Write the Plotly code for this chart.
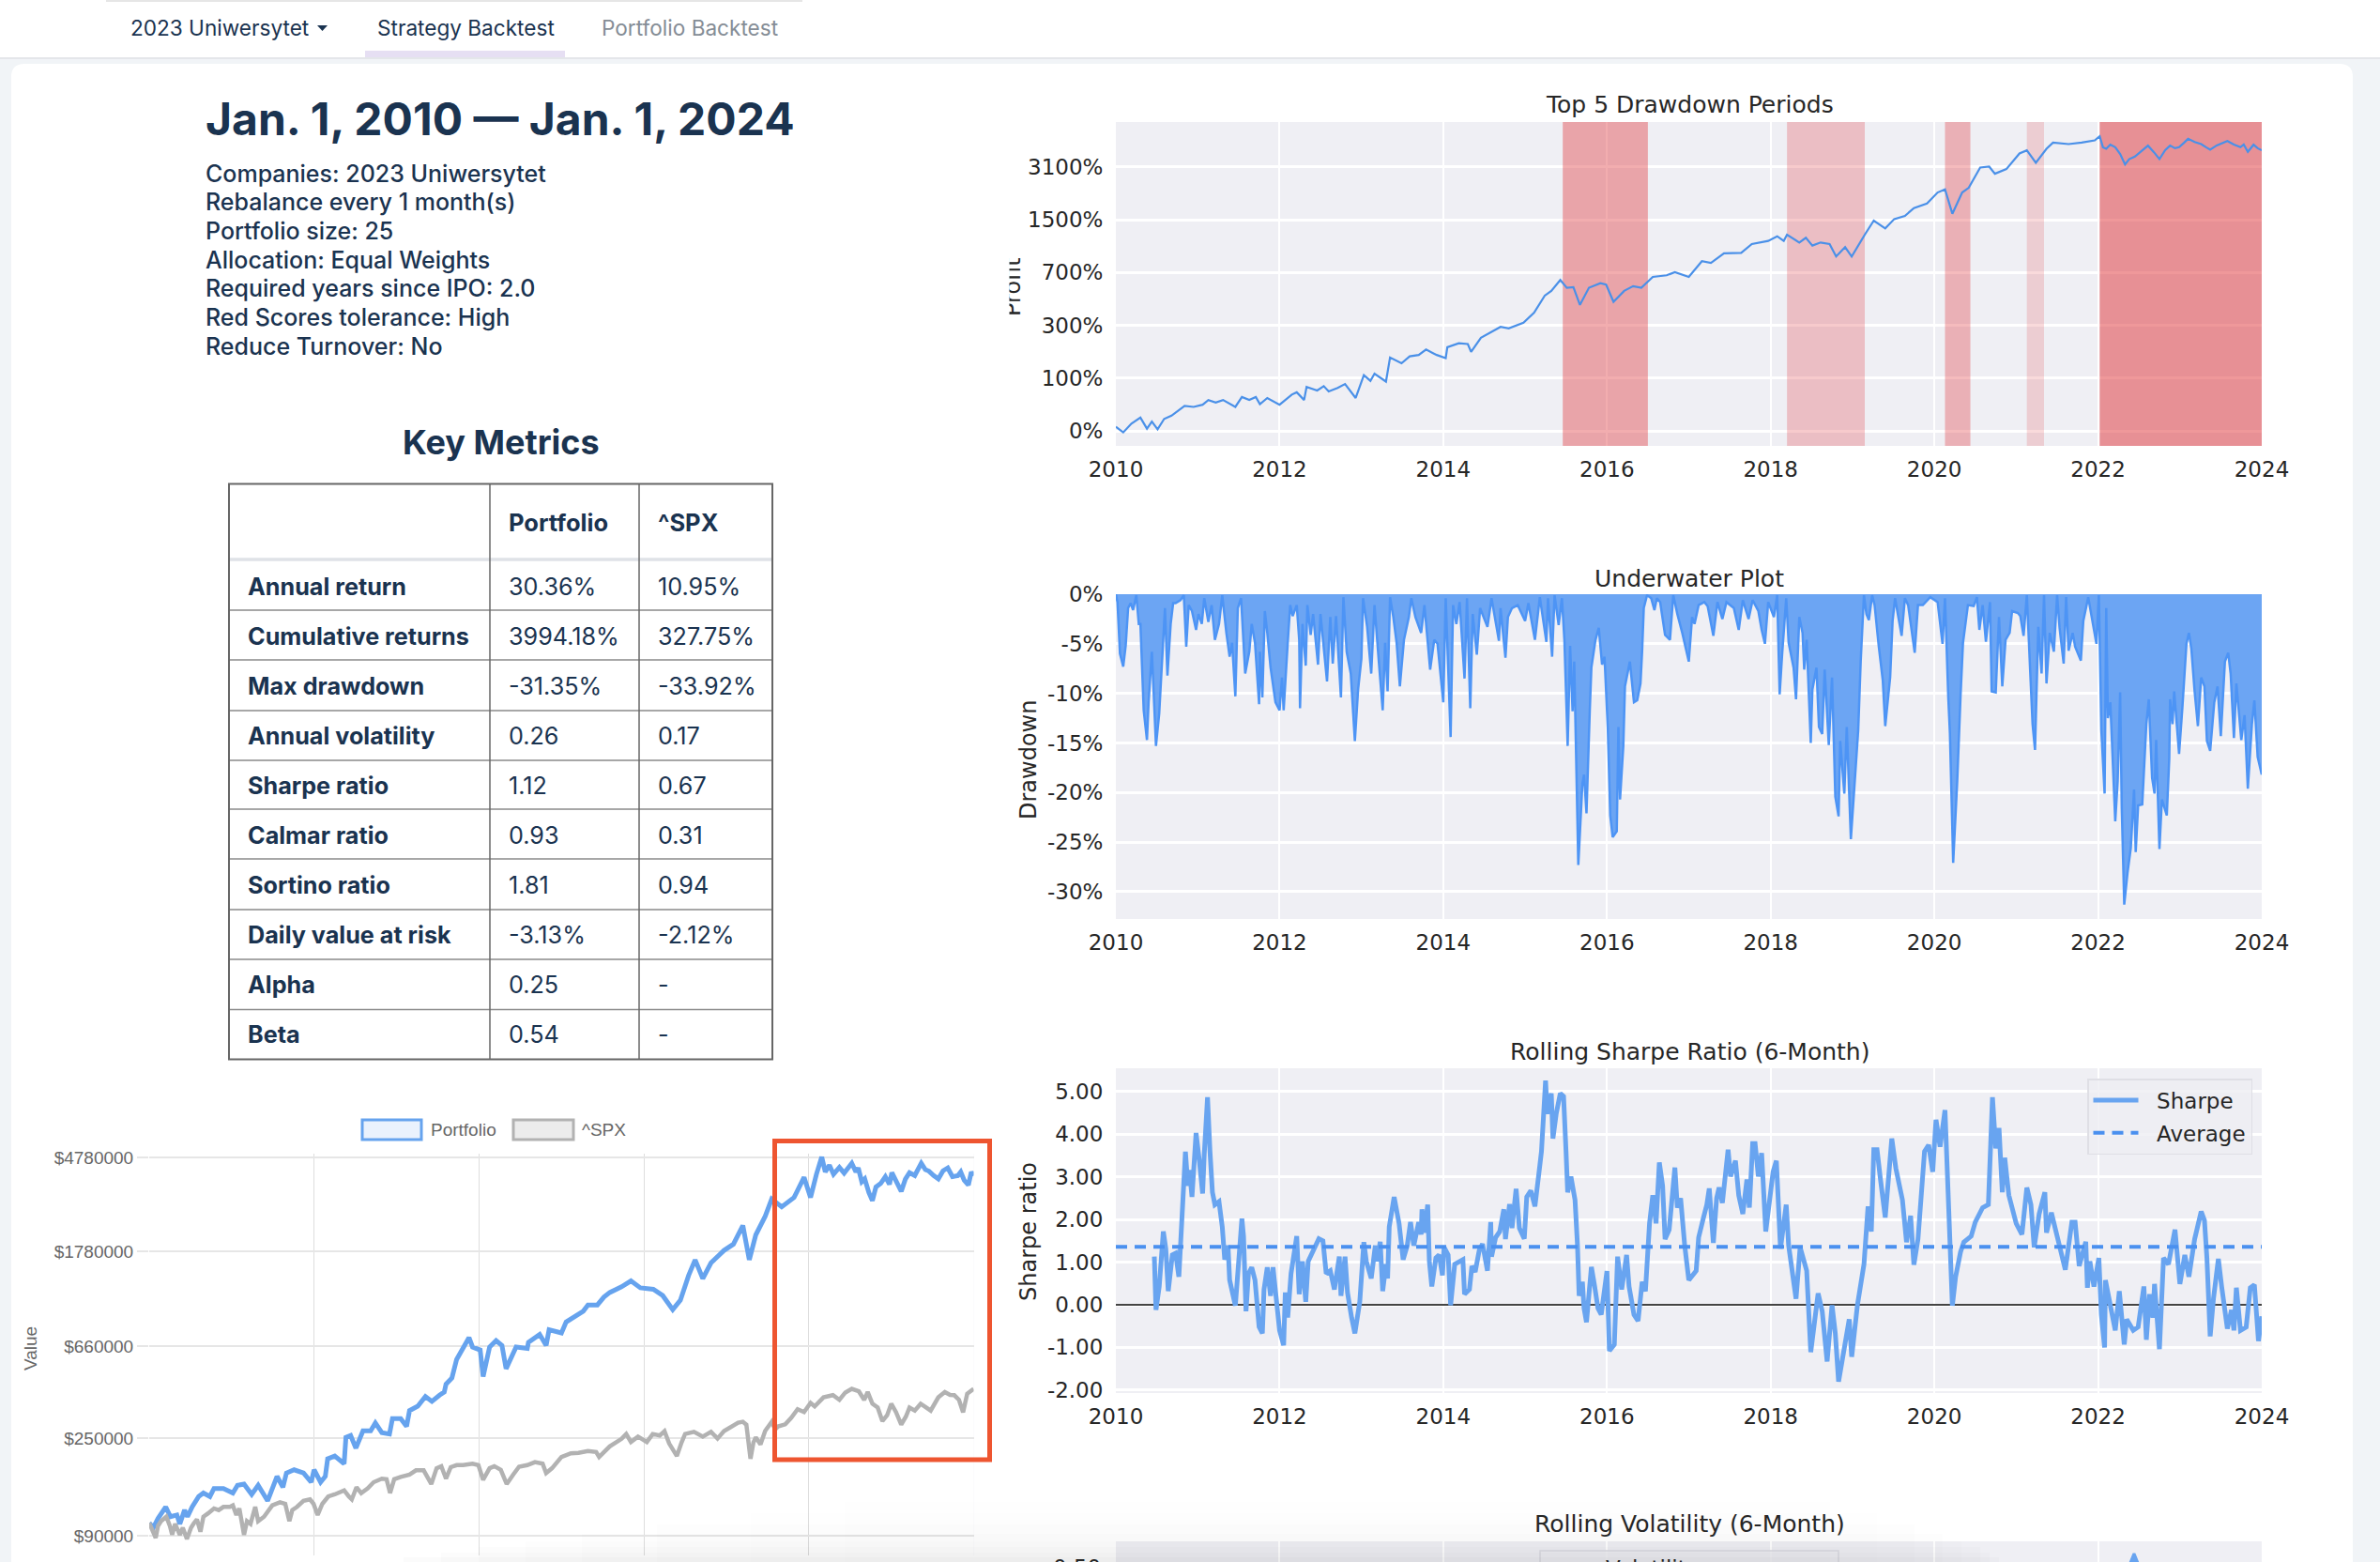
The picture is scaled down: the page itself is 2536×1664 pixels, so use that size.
import plotly.graph_objects as go

W, H = 2536, 1664
INK = "#1a3350"
GRID_TEXT = "#262626"
PLOT_BG = "#efeff4"
PAGE_BG = "#f1f4f7"

# ---- page text
info_lines = ["Companies: 2023 Uniwersytet", "Rebalance every 1 month(s)", "Portfolio size: 25",
              "Allocation: Equal Weights", "Required years since IPO: 2.0",
              "Red Scores tolerance: High", "Reduce Turnover: No"]

# ---- key metrics
metric_names = ["Annual return", "Cumulative returns", "Max drawdown", "Annual volatility", "Sharpe ratio",
                "Calmar ratio", "Sortino ratio", "Daily value at risk", "Alpha", "Beta"]
metric_portfolio = ["30.36%", "3994.18%", "-31.35%", "0.26", "1.12", "0.93", "1.81", "-3.13%", "0.25", "0.54"]
metric_spx = ["10.95%", "327.75%", "-33.92%", "0.17", "0.67", "0.31", "0.94", "-2.12%", "-", "-"]

# ---- value of the portfolio in $1000, left chart
pf_years = [2010.00, 2010.07, 2010.15, 2010.28, 2010.36, 2010.47, 2010.52, 2010.60, 2010.65, 2010.73, 2010.84, 2010.92,
            2011.03, 2011.10, 2011.26, 2011.42, 2011.50, 2011.61, 2011.74, 2011.85,
            2012.01, 2012.09, 2012.17, 2012.27, 2012.33, 2012.46, 2012.62, 2012.75, 2012.80, 2012.91, 2012.99,
            2013.03, 2013.15, 2013.31, 2013.34, 2013.42, 2013.51, 2013.63, 2013.76, 2013.84, 2013.95,
            2014.08, 2014.13, 2014.27, 2014.37, 2014.42, 2014.56, 2014.69, 2014.80, 2014.93,
            2015.01, 2015.04, 2015.14, 2015.22, 2015.33, 2015.43, 2015.49, 2015.62, 2015.67, 2015.78, 2015.89, 2015.99,
            2016.06, 2016.18, 2016.23, 2016.42, 2016.44, 2016.63, 2016.74, 2016.79,
            2017.00, 2017.08, 2017.27, 2017.37, 2017.45, 2017.61, 2017.72, 2017.82,
            2018.02, 2018.18, 2018.34, 2018.56, 2018.72, 2018.89, 2019.02, 2019.16, 2019.27, 2019.40, 2019.54, 2019.76, 2019.92,
            2020.08, 2020.19, 2020.30, 2020.46, 2020.57, 2020.74, 2020.95, 2021.12, 2021.23,
            2021.33, 2021.42, 2021.48, 2021.55, 2021.62, 2021.72, 2021.80, 2021.93,
            2022.00, 2022.04, 2022.10, 2022.15, 2022.22, 2022.28, 2022.34, 2022.42, 2022.50, 2022.57, 2022.61, 2022.69, 2022.77, 2022.84, 2022.91,
            2023.00, 2023.11, 2023.18, 2023.24, 2023.32, 2023.40, 2023.48, 2023.56, 2023.64, 2023.73, 2023.78, 2023.84, 2023.91, 2023.96, 2024.00]
pf_values = [103, 98, 108, 122, 110, 112, 102, 118, 110, 122, 136, 141,
             136, 148, 148, 141, 153, 155, 139, 153,
             130, 150, 168, 150, 174, 180, 174, 158, 180, 158, 168,
             202, 208, 192, 253, 258, 226, 271, 271, 294, 266,
             262, 308, 308, 284, 335, 351, 388, 369, 394,
             407, 442, 472, 573, 643, 721, 653, 633, 479, 653, 698, 664,
             520, 602, 653, 643, 686, 745, 664, 782,
             757, 849, 921, 951, 1015, 1015, 1102, 1157,
             1228, 1306, 1215, 1196, 1120, 967, 1067, 1385, 1630, 1340, 1579, 1799, 1921,
             2336, 1630, 2118, 2576, 3083, 2841, 3134, 3875, 3134,
             4003, 4793, 4100, 4400, 4000, 4300, 4050, 4491,
             4100, 4275, 3700, 3812, 3300, 3033, 3500, 3630, 3900, 3600, 4070, 3700, 3344, 3800, 4070,
             3950, 4491, 4200, 4136, 3950, 3812, 4150, 4275, 3900, 3939, 4100, 3750, 3572, 4100, 3939]
spx_years = [2010.00, 2010.04, 2010.11, 2010.15, 2010.20, 2010.29, 2010.35, 2010.39, 2010.44, 2010.52, 2010.57, 2010.64, 2010.71, 2010.76, 2010.81, 2010.87, 2010.92,
             2011.00, 2011.10, 2011.18, 2011.26, 2011.37, 2011.42, 2011.48, 2011.53, 2011.61, 2011.66, 2011.72, 2011.80, 2011.85, 2011.95,
             2012.09, 2012.22, 2012.31, 2012.38, 2012.43, 2012.51, 2012.62, 2012.73, 2012.79, 2012.86, 2012.94,
             2013.04, 2013.15, 2013.31, 2013.39, 2013.44, 2013.52, 2013.60, 2013.71, 2013.81, 2013.95,
             2014.03, 2014.09, 2014.16, 2014.27, 2014.42, 2014.53, 2014.66, 2014.79, 2014.88, 2014.96,
             2015.04, 2015.12, 2015.22, 2015.33, 2015.49, 2015.59, 2015.67, 2015.78, 2015.86, 2015.97,
             2016.07, 2016.18, 2016.28, 2016.42, 2016.55, 2016.68, 2016.74, 2016.84,
             2017.00, 2017.16, 2017.29, 2017.45, 2017.59, 2017.64, 2017.82,
             2018.02, 2018.10, 2018.18, 2018.30, 2018.45, 2018.55, 2018.67, 2018.75, 2018.83, 2018.96,
             2019.04, 2019.10, 2019.25, 2019.40, 2019.54, 2019.65, 2019.76, 2019.90,
             2020.00, 2020.08, 2020.14, 2020.21, 2020.26, 2020.30, 2020.38, 2020.46, 2020.57, 2020.63, 2020.68, 2020.80, 2020.90,
             2021.01, 2021.12, 2021.23, 2021.30, 2021.45, 2021.61, 2021.72, 2021.82, 2021.93,
             2022.05, 2022.14, 2022.20, 2022.28, 2022.37, 2022.45, 2022.53, 2022.60, 2022.68, 2022.77, 2022.85, 2022.91,
             2023.00, 2023.10, 2023.18, 2023.27, 2023.40, 2023.51, 2023.60, 2023.67, 2023.75, 2023.82, 2023.89, 2024.00]
spx_values = [103, 98, 88, 100, 105, 110, 100, 91, 102, 91, 98, 87, 98, 103, 107, 94, 110,
              114, 120, 118, 122, 122, 124, 112, 120, 91, 105, 102, 122, 105, 110,
              124, 128, 126, 105, 118, 122, 130, 132, 126, 112, 126,
              136, 139, 145, 136, 132, 150, 141, 148, 158, 164,
              163, 141, 163, 167, 171, 179, 179, 155, 183, 187,
              164, 185, 189, 189, 192, 189, 162, 183, 187, 180,
              155, 171, 186, 189, 195, 192, 174, 183,
              206, 214, 215, 219, 217, 206, 230,
              249, 262, 241, 255, 241, 262, 258, 270, 237, 208,
              240, 262, 268, 255, 268, 250, 270, 285,
              295, 298, 289, 202, 240, 253, 235, 271, 298, 275, 284, 290, 310,
              340, 330, 363, 350, 385, 394, 375, 405, 421,
              410, 375, 407, 360, 346, 300, 319, 360, 330, 289, 315, 346,
              335, 360, 346, 335, 385, 407, 395, 394, 375, 329, 400, 421]

# ---- profit %, top drawdown chart
profit_years = [2010.00, 2010.09, 2010.19, 2010.30, 2010.38, 2010.44, 2010.51, 2010.59, 2010.68, 2010.84, 2010.95,
                2011.06, 2011.13, 2011.22, 2011.31, 2011.46, 2011.54, 2011.63, 2011.71, 2011.76, 2011.85,
                2012.00, 2012.15, 2012.21, 2012.30, 2012.33, 2012.46, 2012.54, 2012.60, 2012.71, 2012.80, 2012.93,
                2013.03, 2013.11, 2013.16, 2013.30, 2013.35, 2013.49, 2013.59, 2013.70, 2013.79, 2013.92,
                2014.03, 2014.05, 2014.19, 2014.30, 2014.34, 2014.46, 2014.70, 2014.80, 2014.98,
                2015.11, 2015.24, 2015.32, 2015.43, 2015.51, 2015.59, 2015.67, 2015.78, 2015.92, 2015.99,
                2016.08, 2016.21, 2016.32, 2016.42, 2016.56, 2016.73, 2016.83, 2017.00, 2017.16, 2017.27, 2017.43, 2017.64, 2017.77, 2017.97,
                2018.08, 2018.16, 2018.20, 2018.35, 2018.43, 2018.51, 2018.61, 2018.72, 2018.80, 2018.91, 2018.99,
                2019.15, 2019.26, 2019.40, 2019.51, 2019.64, 2019.75, 2019.91,
                2020.04, 2020.13, 2020.22, 2020.34, 2020.42, 2020.56, 2020.67, 2020.74, 2020.88,
                2021.04, 2021.13, 2021.24, 2021.37, 2021.45, 2021.64, 2021.80, 2021.96,
                2022.02, 2022.06, 2022.10, 2022.15, 2022.21, 2022.27, 2022.33, 2022.38, 2022.45, 2022.52, 2022.61, 2022.68, 2022.75, 2022.82, 2022.88, 2022.94, 2022.99,
                2023.05, 2023.10, 2023.18, 2023.26, 2023.32, 2023.37, 2023.45, 2023.58, 2023.66, 2023.74, 2023.78, 2023.83, 2023.90, 2023.95, 2024.00]
profit_pct = [5.5, -2, 10, 19, 3, 13, 2, 17, 22, 39, 37,
              41, 50, 45, 50, 37, 56, 50, 56, 42, 54,
              41, 61, 66, 50, 78, 70, 80, 68, 76, 85, 54,
              108, 93, 112, 91, 162, 143, 166, 171, 191, 171,
              160, 200, 216, 213, 182, 240, 292, 284, 314,
              372, 491, 529, 626, 555, 560, 423, 555, 596, 583,
              445, 529, 569, 555, 656, 672, 705, 656, 829, 809, 929, 937, 1064, 1113,
              1189, 1113, 1216, 1088, 1163, 1040, 1088, 1064, 888, 1017, 888,
              1216, 1483, 1329, 1516, 1584, 1766, 1884,
              2190, 2287, 1633, 2190, 2336, 3080, 3120, 2830, 3017,
              3727, 3887, 3283, 3968, 4316, 4226, 4316, 4444,
              4694, 4050, 3968, 4200, 4053, 3700, 3213, 3450, 3570, 3800, 4140, 3800, 3453, 3900, 4140, 4000, 4053,
              4300, 4539, 4350, 4226, 4050, 3920, 4150, 4407, 4200, 4053, 4200, 3805, 4190, 4000, 3887]

# start / end year and shading strength of the five worst drawdowns
dd_starts = [2015.46, 2018.20, 2020.13, 2021.13, 2022.02]
dd_ends = [2016.50, 2019.15, 2020.44, 2021.34, 2024.00]
dd_alpha = [0.42, 0.27, 0.35, 0.19, 0.53]

# ---- underwater %
uw_years = [2010.00, 2010.02, 2010.05, 2010.09, 2010.12, 2010.15, 2010.18, 2010.21, 2010.25, 2010.28, 2010.30, 2010.34, 2010.38, 2010.40, 2010.44, 2010.49, 2010.53, 2010.58, 2010.60, 2010.63, 2010.67, 2010.70, 2010.73, 2010.79, 2010.83, 2010.86, 2010.89, 2010.93, 2010.98,
            2011.01, 2011.05, 2011.08, 2011.13, 2011.17, 2011.21, 2011.26, 2011.30, 2011.35, 2011.39, 2011.42, 2011.46, 2011.49, 2011.53, 2011.58, 2011.63, 2011.66, 2011.70, 2011.75, 2011.76, 2011.79, 2011.82, 2011.85, 2011.89, 2011.95,
            2012.00, 2012.03, 2012.05, 2012.10, 2012.13, 2012.16, 2012.21, 2012.24, 2012.25, 2012.28, 2012.32, 2012.34, 2012.38, 2012.41, 2012.47, 2012.50, 2012.58, 2012.62, 2012.65, 2012.69, 2012.75, 2012.78, 2012.82, 2012.87, 2012.92, 2012.96,
            2013.00, 2013.02, 2013.07, 2013.12, 2013.16, 2013.21, 2013.26, 2013.29, 2013.32, 2013.35, 2013.39, 2013.43, 2013.47, 2013.52, 2013.58, 2013.61, 2013.66, 2013.73, 2013.77, 2013.84, 2013.89, 2013.93,
            2014.00, 2014.03, 2014.09, 2014.12, 2014.16, 2014.20, 2014.26, 2014.29, 2014.33, 2014.36, 2014.41, 2014.45, 2014.54, 2014.59, 2014.68, 2014.70, 2014.76, 2014.79, 2014.84, 2014.91,
            2015.00, 2015.04, 2015.12, 2015.18, 2015.26, 2015.28, 2015.33, 2015.36, 2015.41, 2015.45, 2015.48, 2015.52, 2015.55, 2015.58, 2015.60, 2015.65, 2015.66, 2015.70, 2015.72, 2015.75, 2015.79, 2015.81, 2015.86, 2015.90, 2015.94, 2015.97,
            2016.01, 2016.04, 2016.07, 2016.12, 2016.14, 2016.16, 2016.20, 2016.22, 2016.28, 2016.33, 2016.37, 2016.41, 2016.43, 2016.45, 2016.49, 2016.54, 2016.58, 2016.61, 2016.65, 2016.71, 2016.77, 2016.81, 2016.86, 2016.92,
            2017.00, 2017.04, 2017.07, 2017.12, 2017.19, 2017.23, 2017.30, 2017.35, 2017.41, 2017.46, 2017.55, 2017.61, 2017.66, 2017.73, 2017.78, 2017.85, 2017.89, 2017.93, 2017.97,
            2018.04, 2018.08, 2018.11, 2018.14, 2018.19, 2018.22, 2018.28, 2018.31, 2018.35, 2018.39, 2018.41, 2018.44, 2018.49, 2018.51, 2018.56, 2018.59, 2018.63, 2018.66, 2018.71, 2018.75, 2018.79, 2018.83, 2018.85, 2018.90, 2018.93, 2018.98,
            2019.03, 2019.07, 2019.10, 2019.14, 2019.17, 2019.20, 2019.24, 2019.27, 2019.32, 2019.37, 2019.40, 2019.46, 2019.49, 2019.52, 2019.60, 2019.64, 2019.68, 2019.76, 2019.80, 2019.86, 2019.95,
            2020.04, 2020.10, 2020.13, 2020.17, 2020.19, 2020.23, 2020.28, 2020.32, 2020.35, 2020.41, 2020.48, 2020.52, 2020.55, 2020.59, 2020.63, 2020.68, 2020.70, 2020.75, 2020.79, 2020.83, 2020.87, 2020.92, 2020.95,
            2021.02, 2021.05, 2021.09, 2021.13, 2021.17, 2021.20, 2021.23, 2021.27, 2021.31, 2021.34, 2021.37, 2021.41, 2021.46, 2021.50, 2021.53, 2021.58, 2021.61, 2021.64, 2021.69, 2021.72, 2021.79, 2021.82, 2021.88, 2021.93, 2021.98,
            2022.01, 2022.04, 2022.08, 2022.10, 2022.12, 2022.15, 2022.21, 2022.24, 2022.27, 2022.29, 2022.32, 2022.36, 2022.40, 2022.44, 2022.46, 2022.49, 2022.54, 2022.59, 2022.62, 2022.66, 2022.69, 2022.71, 2022.75, 2022.78, 2022.84, 2022.87, 2022.88, 2022.91, 2022.93, 2022.99,
            2023.03, 2023.08, 2023.11, 2023.14, 2023.18, 2023.22, 2023.26, 2023.30, 2023.33, 2023.37, 2023.42, 2023.46, 2023.50, 2023.55, 2023.59, 2023.62, 2023.66, 2023.69, 2023.75, 2023.79, 2023.83, 2023.88, 2023.91, 2023.95, 2024.00]
uw_pct = [0, -0.8, -6.0, -7.3, -5.2, -1.4, -0.9, -1.6, -0.1, -3.0, -3.0, -11.7, -14.7, -10.9, -5.8, -15.3, -12.0, -4.1, -1.4, -8.2, -3.0, -0.9, -0.9, -0.6, -0.1, -5.3, -1.1, -1.7, -3.6,
          -2.0, -3.0, -0.4, -2.8, -1.1, -4.6, -3.0, -0.1, -3.9, -6.3, -4.9, -10.3, -1.4, -0.4, -8.0, -5.8, -3.0, -4.9, -11.1, -5.8, -10.4, -1.7, -3.9, -7.4, -10.9,
          -11.7, -8.4, -11.7, -4.9, -1.1, -2.2, -1.1, -4.6, -11.5, -3.0, -7.2, -1.1, -4.1, -2.0, -7.1, -2.0, -8.8, -2.3, -7.0, -2.2, -10.4, -0.3, -5.8, -8.0, -14.8, -9.6,
          -6.5, -0.4, -3.3, -8.0, -1.1, -6.5, -11.7, -4.9, -9.8, -0.3, -2.3, -4.9, -9.3, -4.6, -2.3, -0.4, -2.3, -3.9, -1.1, -7.6, -4.6, -5.0,
          -10.9, -0.4, -14.4, -1.1, -3.0, -0.8, -8.5, -0.4, -11.5, -2.0, -6.1, -1.4, -3.3, -0.4, -4.7, -1.4, -6.4, -2.3, -1.4, -1.1,
          -2.7, -0.9, -4.6, -0.3, -4.8, -0.4, -6.3, -0.1, -3.1, -0.4, -4.6, -15.3, -5.2, -11.8, -6.8, -27.3, -25.8, -19.1, -18.2, -22.1, -11.8, -7.4, -4.6, -3.4, -7.1, -6.3,
          -13.4, -22.3, -24.5, -23.9, -13.4, -20.7, -15.3, -9.3, -6.8, -10.9, -10.7, -9.0, -5.7, -1.4, -0.1, -0.4, -1.6, -0.4, -0.8, -4.1, -4.6, -0.1, -2.0, -3.9,
          -6.8, -2.3, -3.0, -1.1, -0.8, -1.2, -4.2, -0.8, -2.5, -0.8, -1.4, -3.6, -0.6, -2.5, -0.6, -1.7, -3.6, -5.0, -0.8,
          -2.3, -0.1, -10.1, -6.1, -0.4, -4.9, -7.4, -10.6, -2.3, -3.9, -7.6, -4.6, -15.0, -9.6, -7.4, -13.4, -14.1, -7.6, -15.2, -8.4, -20.4, -22.4, -14.8, -20.1, -13.4, -24.7,
          -18.2, -13.7, -6.8, -0.1, -2.0, -2.6, -0.1, -1.1, -5.2, -8.7, -13.3, -8.4, -2.7, -0.4, -4.2, -0.4, -1.1, -5.9, -1.1, -1.1, -0.3,
          -0.8, -5.0, -0.4, -10.4, -14.0, -27.1, -18.8, -10.3, -4.9, -1.1, -1.2, -0.3, -3.6, -1.1, -4.8, -0.8, -9.8, -9.9, -2.3, -9.3, -4.6, -3.9, -1.7,
          -1.9, -2.2, -4.2, -0.1, -7.6, -13.1, -15.7, -3.3, -8.0, -0.1, -9.0, -3.9, -5.8, -0.1, -3.4, -7.0, -0.3, -5.7, -3.9, -5.3, -6.7, -2.7, -0.3, -2.8, -5.0,
          -0.1, -13.7, -20.1, -1.4, -12.5, -10.9, -22.9, -18.8, -9.9, -21.6, -31.3, -28.1, -25.6, -19.7, -26.0, -21.3, -21.2, -13.1, -10.6, -18.5, -20.1, -14.7, -25.7, -20.7, -22.3, -16.6, -10.6, -13.1, -9.8, -16.1,
          -11.5, -5.0, -3.9, -5.5, -9.8, -13.3, -8.4, -9.3, -14.8, -15.8, -10.9, -9.3, -14.3, -6.8, -5.9, -8.0, -14.5, -9.0, -14.7, -12.2, -19.6, -13.1, -10.7, -16.4, -18.2]

# ---- rolling sharpe
sharpe_years = [2010.47, 2010.49, 2010.53, 2010.58, 2010.61, 2010.64, 2010.69, 2010.73, 2010.77, 2010.79, 2010.83, 2010.85, 2010.88, 2010.90, 2010.93, 2010.98,
                2011.02, 2011.06, 2011.08, 2011.12, 2011.15, 2011.18, 2011.21, 2011.26, 2011.30, 2011.33, 2011.37, 2011.39, 2011.46, 2011.51, 2011.54, 2011.56, 2011.59, 2011.62, 2011.66, 2011.70, 2011.75, 2011.79, 2011.81, 2011.85, 2011.89, 2011.92, 2011.97,
                2012.00, 2012.05, 2012.07, 2012.10, 2012.14, 2012.21, 2012.24, 2012.28, 2012.32, 2012.35, 2012.41, 2012.48, 2012.53, 2012.57, 2012.62, 2012.67, 2012.73, 2012.75, 2012.80, 2012.83, 2012.88, 2012.92, 2012.98,
                2013.03, 2013.06, 2013.12, 2013.17, 2013.19, 2013.23, 2013.26, 2013.30, 2013.32, 2013.34, 2013.40, 2013.46, 2013.51, 2013.56, 2013.60, 2013.64, 2013.70, 2013.73, 2013.74, 2013.77, 2013.81, 2013.83, 2013.86, 2013.91, 2013.95, 2013.99,
                2014.01, 2014.06, 2014.09, 2014.14, 2014.24, 2014.26, 2014.32, 2014.35, 2014.39, 2014.44, 2014.48, 2014.54, 2014.58, 2014.59, 2014.64, 2014.69, 2014.74, 2014.76, 2014.81, 2014.84, 2014.89, 2014.93, 2014.99,
                2015.02, 2015.07, 2015.12, 2015.15, 2015.18, 2015.20, 2015.22, 2015.25, 2015.27, 2015.32, 2015.34, 2015.38, 2015.43, 2015.47, 2015.50, 2015.52, 2015.56, 2015.61, 2015.64, 2015.66, 2015.70, 2015.72, 2015.75, 2015.81, 2015.85, 2015.89, 2015.93,
                2016.00, 2016.03, 2016.09, 2016.13, 2016.18, 2016.24, 2016.27, 2016.33, 2016.38, 2016.43, 2016.47, 2016.52, 2016.56, 2016.60, 2016.64, 2016.68, 2016.71, 2016.76, 2016.79, 2016.83, 2016.86, 2016.90, 2016.95,
                2017.00, 2017.09, 2017.12, 2017.18, 2017.22, 2017.25, 2017.30, 2017.34, 2017.37, 2017.41, 2017.45, 2017.48, 2017.51, 2017.57, 2017.61, 2017.66, 2017.71, 2017.74, 2017.78, 2017.81, 2017.85, 2017.89, 2017.94, 2017.98,
                2018.03, 2018.07, 2018.12, 2018.19, 2018.22, 2018.31, 2018.36, 2018.44, 2018.49, 2018.58, 2018.63, 2018.69, 2018.75, 2018.79, 2018.83, 2018.96, 2018.99,
                2019.06, 2019.14, 2019.19, 2019.23, 2019.26, 2019.30, 2019.34, 2019.40, 2019.48, 2019.53, 2019.61, 2019.66, 2019.71, 2019.75, 2019.80, 2019.88, 2019.93, 2019.98,
                2020.02, 2020.07, 2020.13, 2020.16, 2020.20, 2020.22, 2020.26, 2020.32, 2020.36, 2020.45, 2020.50, 2020.59, 2020.66, 2020.71, 2020.75, 2020.79, 2020.83, 2020.86, 2020.91,
                2021.00, 2021.07, 2021.13, 2021.18, 2021.22, 2021.28, 2021.35, 2021.37, 2021.43, 2021.50, 2021.60, 2021.68, 2021.72, 2021.77, 2021.85, 2021.87, 2021.90, 2021.95,
                2022.01, 2022.04, 2022.08, 2022.09, 2022.14, 2022.21, 2022.26, 2022.32, 2022.35, 2022.43, 2022.49, 2022.56, 2022.59, 2022.63, 2022.67, 2022.69, 2022.75, 2022.80, 2022.86, 2022.94,
                2023.00, 2023.06, 2023.11, 2023.18, 2023.26, 2023.30, 2023.33, 2023.37, 2023.41, 2023.47, 2023.51, 2023.58, 2023.63, 2023.66, 2023.69, 2023.74, 2023.81, 2023.86, 2023.91, 2023.96, 2024.00]
sharpe_vals = [1.13, -0.12, 0.43, 1.72, 1.32, 0.32, 1.17, 1.21, 0.66, 1.32, 2.64, 3.59, 2.79, 3.16, 2.53, 4.03,
               3.38, 2.61, 3.53, 4.87, 3.60, 2.64, 2.35, 2.42, 1.83, 1.06, 1.39, 0.58, -0.02, 1.47, 2.02, 1.61, -0.15, 0.73, 0.88, 0.58, -0.52, -0.67, 0.36, 0.88, 0.21, 0.88, 0.07,
               -0.60, -0.95, 0.29, -0.30, 0.73, 1.61, 0.25, 1.02, 0.07, 1.02, 1.24, 1.55, 1.50, 0.73, 0.80, 0.36, 1.13, 0.21, 1.13, 0.29, -0.30, -0.67, 0.07,
               1.47, 1.02, 0.62, 1.39, 1.02, 1.48, 0.32, 0.95, 0.62, 1.83, 2.53, 1.91, 1.06, 1.39, 1.94, 1.39, 1.94, 1.65, 2.24, 1.69, 2.35, 1.02, 0.43, 1.10, 1.17, 0.69,
               1.35, 1.17, -0.01, 0.95, 1.06, 0.25, 0.36, 0.91, 0.77, 1.28, 1.43, 0.80, 1.94, 1.13, 1.58, 1.72, 2.24, 1.54, 2.36, 1.80, 2.72, 1.80, 1.55,
               2.53, 2.68, 2.31, 2.90, 3.27, 3.60, 4.41, 5.26, 4.48, 4.96, 3.90, 4.48, 4.96, 4.89, 3.60, 2.64, 3.01, 2.46, 1.39, 0.21, 0.54, -0.08, -0.41, 0.89, 0.43, -0.08, -0.23,
               0.79, -1.08, -0.93, 1.13, 0.36, 1.17, 0.43, -0.23, -0.38, 0.54, 0.32, 1.91, 2.57, 1.91, 3.34, 2.79, 1.54, 1.76, 2.28, 3.22, 2.28, 2.50, 1.39,
               0.58, 0.80, 1.58, 2.05, 2.35, 2.73, 1.45, 2.50, 2.75, 2.39, 3.23, 3.64, 3.01, 3.38, 2.57, 2.13, 2.94, 2.28, 3.78, 3.78, 3.01, 3.56, 1.72, 2.42,
               3.12, 3.38, 1.32, 2.35, 1.39, 0.14, 1.35, 0.80, -1.11, 0.27, -0.15, -1.33, -0.01, -0.67, -1.80, -0.34, -1.22,
               -0.01, 0.95, 2.31, 1.72, 3.64, 3.64, 2.97, 2.05, 3.90, 3.20, 2.46, 1.47, 2.09, 0.94, 1.54, 3.60, 3.75, 3.12,
               4.34, 3.71, 4.57, 2.83, 1.17, -0.02, 0.66, 1.24, 1.47, 1.61, 1.94, 2.28, 2.35, 4.87, 3.67, 4.15, 2.64, 3.45, 2.57,
               1.91, 1.65, 2.75, 2.35, 1.35, 2.13, 2.64, 1.69, 2.16, 1.61, 0.82, 1.94, 1.94, 0.91, 1.48, 0.40, 1.02, 0.43,
               1.10, -0.23, -1.00, 0.58, 0.07, -0.60, 0.32, -0.93, -0.34, -0.60, -0.52, 0.43, -0.82, 0.25, -0.30, 0.49, -1.04, 1.10, 0.95, 1.76,
               0.49, 1.17, 0.66, 1.54, 2.19, 1.98, 1.10, -0.74, 0.14, 1.08, 0.43, -0.56, -0.12, -0.60, 0.40, -0.60, -0.52, 0.40, 0.47, -0.85, -0.27]
sharpe_average = 1.36

# ---- rolling volatility, only the top edge of this chart is on screen
vol_years = [2022.37, 2022.44, 2022.51]
vol_vals = [0.50, 0.532, 0.50]

# ---- axis ticks
year_ticks = [2010, 2012, 2014, 2016, 2018, 2020, 2022, 2024]
profit_tickvals = [1, 2, 4, 8, 16, 32]
profit_ticktext = ["0%", "100%", "300%", "700%", "1500%", "3100%"]
uw_tickvals = [0, -5, -10, -15, -20, -25, -30]
uw_ticktext = ["0%", "-5%", "-10%", "-15%", "-20%", "-25%", "-30%"]
sharpe_tickvals = [5, 4, 3, 2, 1, 0, -1, -2]
sharpe_ticktext = ["5.00", "4.00", "3.00", "2.00", "1.00", "0.00", "-1.00", "-2.00"]
value_tickvals = [90000, 250000, 660000, 1780000, 4780000]
value_ticktext = ["$90000", "$250000", "$660000", "$1780000", "$4780000"]
value_gridyears = [2010, 2012.8, 2015.6, 2018.4, 2021.2]


def px(x):
    return x / W


def py(y):
    return 1 - y / H


def dejavu(size, color=GRID_TEXT):
    return dict(family="DejaVu Sans", size=size, color=color)


def note(x, y, text, font, xanchor="left", angle=0):
    return dict(x=px(x), y=py(y), xref="paper", yref="paper", text=text, font=font, showarrow=False,
                xanchor=xanchor, yanchor="middle", textangle=angle, align="left")


def rect(x0, y0, x1, y1, fill, line=None, width=0):
    return dict(type="rect", xref="paper", yref="paper", x0=px(x0), x1=px(x1), y0=py(y0), y1=py(y1),
                fillcolor=fill, line=dict(color=line or fill, width=width), layer="below")


def hline(x0, x1, y, color, width):
    return dict(type="line", xref="paper", yref="paper", x0=px(x0), x1=px(x1), y0=py(y), y1=py(y),
                line=dict(color=color, width=width))


def vline(x, y0, y1, color, width):
    return dict(type="line", xref="paper", yref="paper", x0=px(x), x1=px(x), y0=py(y0), y1=py(y1),
                line=dict(color=color, width=width))


def corner(x0, y0, x1, y1):
    # little square corner of page colour, rounded off towards the card
    return dict(type="path", xref="paper", yref="paper", layer="below", fillcolor=PAGE_BG, line=dict(width=0),
                path="M %f %f L %f %f Q %f %f %f %f Z" % (px(x0), py(y0), px(x1), py(y0), px(x0), py(y0), px(x0), py(y1)))


def right_x(anchor):
    # seaborn style x axis for the right hand column
    return dict(domain=[px(1189), px(2410)], range=[2010, 2024], anchor=anchor, tickvals=year_ticks,
                tickformat="d", gridcolor="white", gridwidth=1.5, zeroline=False, ticks="outside",
                ticklen=4, tickcolor="rgba(0,0,0,0)", tickfont=dejavu(23), showline=False)


def right_y(anchor, y_top, y_bottom, rng, vals, text, kind="linear"):
    return dict(domain=[py(y_bottom), py(y_top)], range=rng, type=kind, anchor=anchor, tickvals=vals,
                ticktext=text, gridcolor="white", gridwidth=2.5, zeroline=False, ticks="outside",
                ticklen=8, tickcolor="rgba(0,0,0,0)", tickfont=dejavu(23), showline=False)


fig = go.Figure()

# drawdown periods sit under the profit line, above the grid
for start, end, alpha in zip(dd_starts, dd_ends, dd_alpha):
    fig.add_trace(go.Scatter(x=[start, end, end, start], y=[0.8, 0.8, 60, 60], mode="lines", xaxis="x", yaxis="y",
                             fill="toself", fillcolor="rgba(225,60,65,%.2f)" % alpha, line=dict(width=0),
                             showlegend=False))

# right column
fig.add_trace(go.Scatter(x=profit_years, y=[1 + p / 100 for p in profit_pct], mode="lines", xaxis="x", yaxis="y",
                         line=dict(color="#4a90e8", width=2.2), showlegend=False))
fig.add_trace(go.Scatter(x=uw_years, y=uw_pct, mode="lines", xaxis="x2", yaxis="y2", fill="tozeroy",
                         fillcolor="rgba(100,160,242,0.95)", line=dict(color="#4d94f5", width=2.5), showlegend=False))
fig.add_trace(go.Scatter(x=[2010, 2024], y=[0, 0], mode="lines", xaxis="x3", yaxis="y3",
                         line=dict(color="#444444", width=2), showlegend=False))
fig.add_trace(go.Scatter(x=sharpe_years, y=sharpe_vals, mode="lines", xaxis="x3", yaxis="y3", name="\u00a0\u00a0Sharpe",
                         line=dict(color="#68a4f0", width=5), legendgroup="a"))
fig.add_trace(go.Scatter(x=[2010, 2024], y=[sharpe_average, sharpe_average], mode="lines", xaxis="x3", yaxis="y3",
                         name="\u00a0\u00a0Average", line=dict(color="#4a90ef", width=4, dash="12px,8px"), legendgroup="b"))
fig.add_trace(go.Scatter(x=vol_years, y=vol_vals, mode="lines", xaxis="x4", yaxis="y4", fill="tozeroy",
                         fillcolor="#68a4f0", line=dict(color="#68a4f0", width=3), showlegend=False))

# left chart
fig.add_trace(go.Scatter(x=pf_years, y=[v * 1000 for v in pf_values], mode="lines", xaxis="x5", yaxis="y5",
                         line=dict(color="#66a3ee", width=5), showlegend=False))
fig.add_trace(go.Scatter(x=spx_years, y=[v * 1000 for v in spx_values], mode="lines", xaxis="x5", yaxis="y5",
                         line=dict(color="#b2b2b2", width=4.5), showlegend=False))

# metrics table, the grid is drawn as shapes
fig.add_trace(go.Table(
    domain=dict(x=[px(256), px(835)], y=[py(1137), py(539)]),
    columnwidth=[278, 159, 142],
    header=dict(values=["", "Portfolio", "^SPX"], height=68, align="left",
                font=dict(family="Inter", size=25.5, color=INK, weight=700),
                fill=dict(color="rgba(0,0,0,0)"), line=dict(color="rgba(0,0,0,0)", width=0)),
    cells=dict(values=[metric_names, metric_portfolio, metric_spx], height=53, align="left",
               font=dict(family="Inter", size=25.2, color=INK, weight=[700, 400, 400]),
               fill=dict(color="rgba(0,0,0,0)"), line=dict(color="rgba(0,0,0,0)", width=0))))

shapes = [
    # page behind the white card
    rect(0, 61, 12, H, PAGE_BG),
    rect(2507, 61, W, H, PAGE_BG),
    rect(0, 61, W, 68, PAGE_BG),
    corner(12, 68, 26, 82),
    corner(2507, 68, 2493, 82),
    # the left chart has a white plot area
    rect(159, 1229, 1037.5, 1657, "white"),
    hline(0, W, 62, "#e4e6ea", 2),
    rect(113, 0, 855, 2, "#e6e6e6"),
    rect(389, 54, 602, 61, "#e6dff3"),
    dict(type="path", xref="paper", yref="paper", fillcolor=INK, line=dict(width=0),
         path="M %f %f L %f %f L %f %f Z" % (px(338), py(27), px(349), py(27), px(343.5), py(33))),
]

# table grid
row_lines = [650, 703, 757, 810, 862, 915, 969, 1022, 1075.5]
for y in row_lines:
    shapes.append(hline(244, 823, y, "#8a8a8a", 1.5))
shapes.append(hline(244, 823, 596, "#dfe2e7", 3.5))
for x in [522, 681]:
    shapes.append(vline(x, 515.5, 1128.5, "#666666", 1.5))
shapes.append(dict(type="rect", xref="paper", yref="paper", x0=px(244), x1=px(823), y0=py(515.5), y1=py(1128.5),
                   line=dict(color="#666666", width=2)))

# left chart legend and highlight box
shapes.append(dict(type="rect", xref="paper", yref="paper", x0=px(386), x1=px(449), y0=py(1193), y1=py(1214),
                   fillcolor="#eaf2fd", line=dict(color="#66a3ee", width=3)))
shapes.append(dict(type="rect", xref="paper", yref="paper", x0=px(547), x1=px(611), y0=py(1193), y1=py(1214),
                   fillcolor="#ececec", line=dict(color="#b2b2b2", width=3)))
shapes.append(dict(type="rect", xref="paper", yref="paper", x0=px(825.5), x1=px(1054.5), y0=py(1215.5), y1=py(1555),
                   line=dict(color="#ee5530", width=5)))

# volatility chart legend box
shapes.append(dict(type="rect", xref="paper", yref="paper", x0=px(1641), x1=px(1959), y0=py(1652), y1=py(1680),
                   fillcolor="rgba(238,238,243,0.8)", line=dict(color="#dcdce2", width=1.5)))

# the soft shadow at the bottom of the screenshot
for top, x0, x1, a in [(1600, 900, 1950, .005), (1612, 800, 2000, .005), (1624, 700, 2040, .006), (1634, 620, 2070, .007),
                       (1642, 560, 2090, .008), (1648, 510, 2110, .01), (1654, 470, 2120, .012), (1659, 430, 2130, .014)]:
    shapes.append(dict(type="rect", xref="paper", yref="paper", x0=px(x0), x1=px(x1), y0=py(top), y1=0,
                       fillcolor="rgba(0,0,0,%.3f)" % a, line=dict(width=0)))

nav_font = dict(family="Inter", size=22.6, color=INK)
info_font = dict(family="Inter", size=25, color=INK, weight=500)
chart_font = dict(family="Liberation Sans", size=19, color="#666666")

annotations = [
    note(137, 30, "2023 Uniwersytet", nav_font),
    note(399.5, 30, "Strategy Backtest", nav_font),
    note(639, 30, "Portfolio Backtest", dict(family="Inter", size=22.6, color="#858d96")),
    note(217, 126, "<b>Jan. 1, 2010 — Jan. 1, 2024</b>", dict(family="Inter", size=48, color=INK)),
    note(534, 471, "<b>Key Metrics</b>", dict(family="Inter", size=36, color=INK), xanchor="center"),
    note(1800, 112, "Top 5 Drawdown Periods", dejavu(25), xanchor="center"),
    note(1800, 616, "Underwater Plot", dejavu(25), xanchor="center"),
    note(1800, 1120, "Rolling Sharpe Ratio (6-Month)", dejavu(25), xanchor="center"),
    note(1800, 1623, "Rolling Volatility (6-Month)", dejavu(25), xanchor="center"),
    note(1079, 306, "Profit", dejavu(24), xanchor="center", angle=-90),
    note(1096, 810, "Drawdown", dejavu(24), xanchor="center", angle=-90),
    note(1096, 1312, "Sharpe ratio", dejavu(24), xanchor="center", angle=-90),
    note(1175, 1670, "0.50", dejavu(23), xanchor="right"),
    note(1760, 1671, "Volatility", dejavu(23), xanchor="center"),
    note(32, 1437, "Value", chart_font, xanchor="center", angle=-90),
    note(457, 1203, "Portfolio", chart_font),
    note(618, 1203, "^SPX", chart_font),
]
for line_y, line in zip([184.5, 215, 246, 276.5, 307, 338, 369], info_lines):
    annotations.append(note(217, line_y, line, info_font))
# the screenshot chops the top off the Profit label
annotations.append(dict(x=px(1067), y=py(306), xref="paper", yref="paper", text="&nbsp;", showarrow=False, width=14, height=80,
                        bgcolor="white", xanchor="center", yanchor="middle"))

fig.update_layout(
    template="none", width=W, height=H, margin=dict(l=0, r=0, t=0, b=0, pad=0), autosize=False,
    paper_bgcolor="white", plot_bgcolor=PLOT_BG, hovermode=False,
    shapes=shapes, annotations=annotations,
    legend=dict(x=px(2400), y=py(1149), xanchor="right", yanchor="top", bgcolor="rgba(238,238,243,0.8)",
                bordercolor="#dfdfe5", borderwidth=1.5, font=dejavu(23), itemwidth=48, traceorder="grouped",
                tracegroupgap=2),
    xaxis=right_x("y"),
    yaxis=right_y("x", 130, 475, [-0.0857, 1.762], profit_tickvals, profit_ticktext, "log"),
    xaxis2=right_x("y2"),
    yaxis2=right_y("x2", 633, 979, [-32.75, 0], uw_tickvals, uw_ticktext),
    xaxis3=right_x("y3"),
    yaxis3=right_y("x3", 1138, 1484, [-2.07, 5.55], sharpe_tickvals, sharpe_ticktext),
    xaxis4=dict(domain=[px(1189), px(2410)], range=[2010, 2024], anchor="y4", tickvals=year_ticks, gridcolor="white",
                gridwidth=1.5, zeroline=False, showticklabels=False),
    yaxis4=dict(domain=[0, py(1642)], range=[0.513, 0.56], anchor="x4", showgrid=False, zeroline=False,
                showticklabels=False),
    xaxis5=dict(domain=[px(159), px(1037.5)], range=[2010, 2024], anchor="y5", tickvals=value_gridyears,
                showticklabels=False, gridcolor="#dedede", gridwidth=1.2, zeroline=False, showline=False),
    yaxis5=dict(domain=[py(1657), py(1229)], range=[4.865, 6.696], type="log", anchor="x5", tickvals=value_tickvals,
                ticktext=value_ticktext, gridcolor="#e6e6e6", gridwidth=2, zeroline=False, ticks="outside", ticklen=12,
                tickcolor="#e6e6e6", tickwidth=2, tickfont=chart_font, showline=False),
)

fig.write_html("out.html", config=dict(displayModeBar=False),
               post_script="document.body.style.margin='0';document.body.style.overflow='hidden';")
